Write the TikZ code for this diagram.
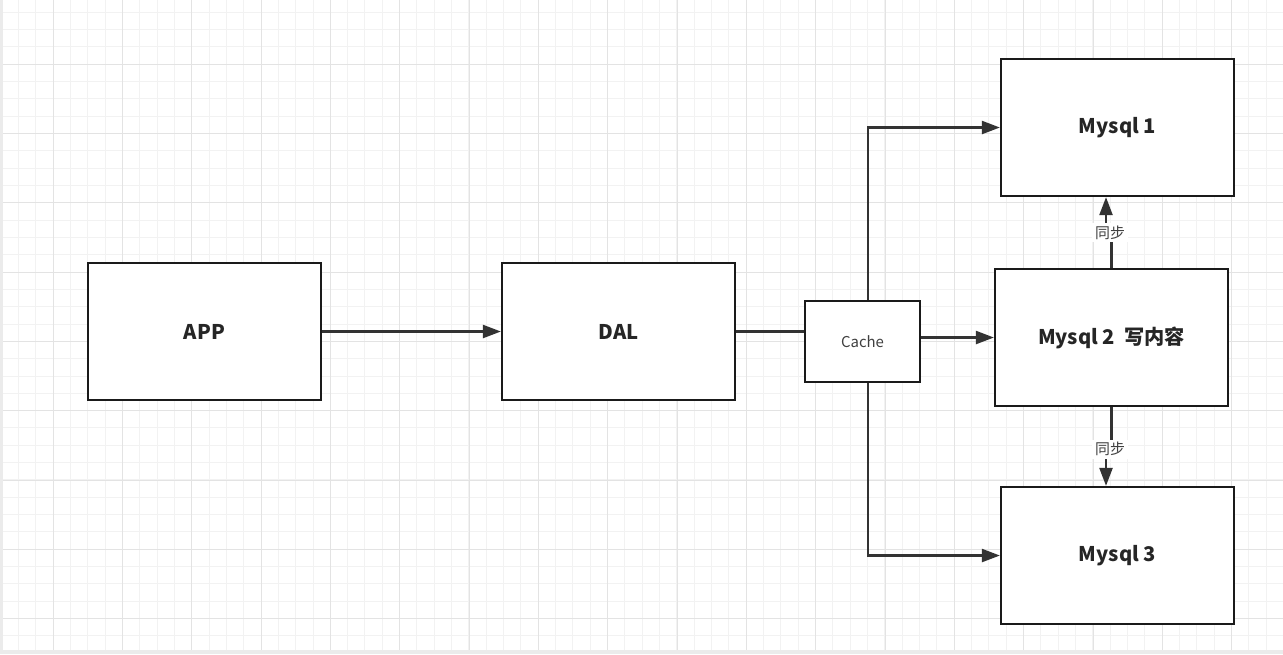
\documentclass[tikz,border=0pt]{standalone}
\usepackage{fontspec}
\setmainfont{Noto Sans CJK SC}
\usepackage{xcolor}
\usepackage{tikz}
\usetikzlibrary{arrows.meta, positioning, calc}
\definecolor{gridlight}{HTML}{F2F2F2}
\definecolor{griddark}{HTML}{E3E3E3}
\definecolor{inkbox}{HTML}{1A1A1A}
\colorlet{inktext}{black!85}

\begin{document}
\begin{tikzpicture}[x=0.02cm, y=-0.02cm,
    box/.style={draw=inkbox, line width=1.3pt, fill=white, minimum width=4.66cm, minimum height=2.74cm, font=\fontsize{11.5}{13}\selectfont\bfseries, text=inktext},
    link/.style={draw=black!80, line width=1.3pt},
    tip/.style={-{Triangle[length=0.36cm, width=0.26cm]}},
    tag/.style={fill=white, inner sep=1.5pt, font=\fontsize{8.5}{10}\selectfont, text=black!75}]
    \useasboundingbox (0,0) rectangle (1283,654);
    % background grid
    \foreach \i in {0,...,73} \draw[gridlight, line width=0.5pt] ({1+17.33*\i},0) -- ({1+17.33*\i},654);
    \foreach \i in {0,...,37} \draw[gridlight, line width=0.5pt] (0,{12+17.33*\i}) -- (1283,{12+17.33*\i});
    \foreach \i in {0,...,17} \draw[griddark, line width=0.5pt] ({53+69.33*\i},0) -- ({53+69.33*\i},654);
    \foreach \i in {0,...,8} \draw[griddark, line width=0.5pt] (0,{64+69.33*\i}) -- (1283,{64+69.33*\i});
    \fill[black!8] (0,0) rectangle (3,654);
    \fill[black!8] (0,650) rectangle (1283,654);

    \node[box] (app) at (204.5,331.5) {APP};
    \node[box] (dal) at (618.5,331.5) {DAL};
    \node[draw=inkbox, line width=1.3pt, fill=white, minimum width=2.3cm, minimum height=1.62cm, font=\fontsize{8.5}{10}\selectfont, text=black!75] (cache) at (862.5,341.5) {Cache};
    \node[box] (m1) at (1117.5,127.5) {Mysql 1};
    \node[box] (m2) at (1111.5,337.5) {Mysql 2\ \ 写内容};
    \node[box] (m3) at (1117.5,555.5) {Mysql 3};

    \draw[link, tip] (app) -- (dal);
    \draw[link] (dal.east) -- (dal.east -| cache.west);
    \draw[link, tip] ($(cache.north)+(5.5,0)$) |- (m1.west);
    \draw[link, tip] (cache.east |- m2) -- (m2.west);
    \draw[link, tip] ($(cache.south)+(5.5,0)$) |- (m3.west);

    \draw[link, tip] (m2.north) -- ++(0,-37) coordinate (s1) -| ($(m1.south)+(-11.5,0)$);
    \node[tag] (t1) at ($(s1)+(-1.5,2)$) {同步};
    \draw[link, tip] (m2.south) -- ++(0,42) coordinate (s2) -| ($(m3.north)+(-11.5,0)$);
    \node[tag] (t2) at ($(s2)+(-1.5,0)$) {同步};
\end{tikzpicture}
\end{document}
